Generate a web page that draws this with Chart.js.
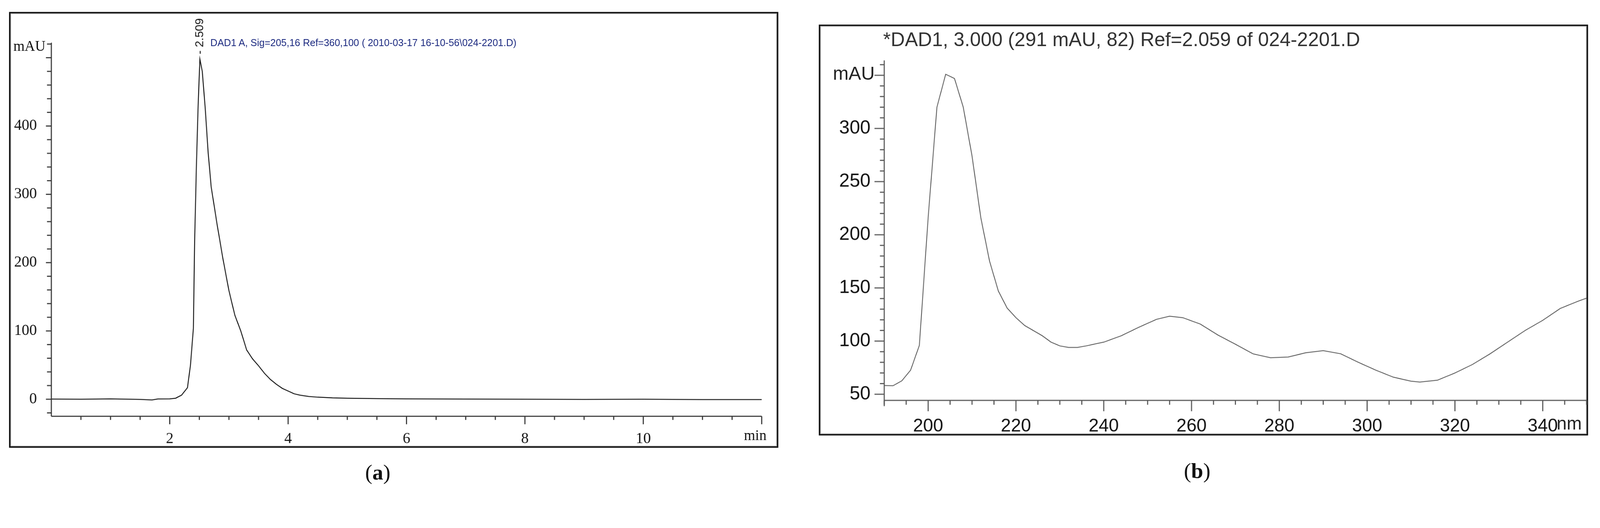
<!DOCTYPE html>
<html><head><meta charset="utf-8">
<script src="https://cdn.jsdelivr.net/npm/chart.js@4/dist/chart.umd.min.js"></script>
<style>
html,body{margin:0;padding:0;background:#fff;overflow:hidden}
#wrap{position:absolute;left:0;top:0;width:4426px;height:1351px;transform-origin:0 0;font-family:"Liberation Sans",Arial,sans-serif}
canvas{position:absolute;top:0}
.frame{position:absolute;border:4px solid #111;box-sizing:border-box;box-shadow:inset 0 0 0 2px #bbb}
.t{position:absolute;white-space:nowrap}
</style></head><body><div id="wrap">
<div class="frame" style="left:25px;top:33px;width:2128px;height:1205px"></div>
<div class="frame" style="left:2265px;top:68px;width:2128px;height:1136px"></div>
<div style="position:absolute;left:0;top:0;width:2200px;height:1351px"><canvas id="c1"></canvas></div>
<div style="position:absolute;left:2200px;top:0;width:2226px;height:1351px"><canvas id="c2"></canvas></div>
<div class="t" style="left:37px;top:104px;font:40px 'Liberation Serif',serif;color:#111">mAU</div>
<div class="t" style="left:2058px;top:1180px;font:40px 'Liberation Serif',serif;color:#111">min</div>
<div class="t" style="left:582px;top:104px;font:27px 'Liberation Sans',Arial,sans-serif;color:#1c2a80">DAD1 A, Sig=205,16 Ref=360,100 ( 2010-03-17 16-10-56\024-2201.D)</div>
<div class="t" style="left:2443px;top:78px;font:54px 'Liberation Sans',Arial,sans-serif;color:#333">*DAD1, 3.000 (291 mAU, 82) Ref=2.059 of 024-2201.D</div>
<div class="t" style="left:2304px;top:172px;font:52px 'Liberation Sans',Arial,sans-serif;color:#222">mAU</div>
<div class="t" style="left:4306px;top:1142px;font:50px 'Liberation Sans',Arial,sans-serif;color:#222">nm</div>
<div class="t" style="left:1010px;top:1272px;font:60px 'Liberation Serif',serif;color:#111">(<b>a</b>)</div>
<div class="t" style="left:3275px;top:1268px;font:60px 'Liberation Serif',serif;color:#111">(<b>b</b>)</div>
</div>
<script>
(function(){const s=Math.min(window.innerWidth/4426,window.innerHeight/1351);document.getElementById('wrap').style.transform='scale('+s+')';})();
const timeMin=[0,0.5,1.0,1.5,1.7,1.8,2.0,2.1,2.2,2.3,2.35,2.4,2.42,2.45,2.48,2.509,2.55,2.6,2.65,2.7,2.8,2.9,3.0,3.1,3.2,3.3,3.4,3.5,3.6,3.7,3.8,3.9,4.0,4.1,4.2,4.35,4.5,4.75,5.0,5.5,6.0,7.0,8.0,9.0,10,11,12];
const signalMAU=[0.3,0,0.5,-0.3,-1,0.4,0.5,1.5,6,17,50,104,230,340,430,498,480,425,360,311,256,205,159,123,100,72,59,49,38,29,22,16,12,8,6,4,3,2,1.5,1,0.5,0.3,0,-0.3,0,-0.5,-0.5];
const leftTickLabels=['0','100','200','300','400'];
const peakLabel='2.509', peakTime=2.509;
const wavelength=[190,192,194,196,198,200,202,204,206,208,210,212,214,216,218,220,222,226,228,230,232,234,236,240,244,248,252,255,258,262,266,270,274,278,282,286,290,294,298,302,306,310,312,316,320,324,328,332,336,340,344,348,350];
const absorbMAU=[58.2,58,62.6,72.6,96,216,320,351,347,320,274,216,175,147,131,122,114.6,105,99,95.5,94,94,95.5,99,105,113,120.4,123.4,122,116,105.7,97,88,84.3,85,89,91,88,80,72.6,66,62.3,61.4,63.2,70,78,88,99,110,119.5,130.7,137.4,140.4];

const ticksPlugin={id:'tk',afterDraw(ch){
  const o=ch.options.plugins.tk; if(!o) return;
  const c=ch.ctx,x=ch.scales.x,y=ch.scales.y;
  c.save();c.strokeStyle=o.color;c.lineWidth=3;
  c.beginPath();c.moveTo(x.left,y.top);c.lineTo(x.left,y.bottom+o.ext);c.moveTo(x.left,y.bottom);c.lineTo(x.right,y.bottom);c.stroke();
  for(let v=o.yMinor0;v<=y.max;v+=o.yMinor){const p=y.getPixelForValue(v);const maj=Math.abs(v/o.yMajor-Math.round(v/o.yMajor))<1e-6;
    c.beginPath();c.moveTo(x.left,p);c.lineTo(x.left-(maj?o.yMajLen:o.yMinLen),p);c.stroke();}
  for(let v=o.xMinor0;v<=x.max+1e-6;v+=o.xMinor){const p=x.getPixelForValue(v);const maj=Math.abs(v/o.xMajor-Math.round(v/o.xMajor))<1e-6;
    c.beginPath();c.moveTo(p,y.bottom);c.lineTo(p,y.bottom+(maj?o.xMajLen:o.xMinLen));c.stroke();}
  if(o.peak){const px=x.getPixelForValue(peakTime);c.translate(px,150);c.rotate(-Math.PI/2);c.fillStyle='#111';c.font='32px "Liberation Sans",Arial';c.textBaseline='middle';c.fillText('- '+peakLabel,0,0);}
  c.restore();}};

function mk(id,w,pad,xs,ys,data,ext,color,lw){
 const cv=document.getElementById(id);cv.width=w;cv.height=1351;cv.style.width=w+'px';cv.style.height='1351px';
 return new Chart(cv,{type:'line',data:{datasets:[{data,borderColor:color,borderWidth:lw,pointRadius:0,tension:0,fill:false}]},
 options:{responsive:false,animation:false,devicePixelRatio:1,layout:{padding:pad},
  plugins:{legend:{display:false},tooltip:{enabled:false},tk:ext},
  scales:{x:Object.assign({type:'linear',grid:{display:false},border:{display:false},afterFit(s){s.height=xs.h}},xs.o),
   y:Object.assign({type:'linear',grid:{display:false},border:{display:false},afterFit(s){s.width=ys.w}},ys.o)}},plugins:[ticksPlugin]});}

mk('c1',2200,{left:0,top:118,right:93,bottom:0},
 {h:200,o:{min:0,max:12,ticks:{padding:30,font:{family:'Liberation Serif',size:42},color:'#111',maxRotation:0,autoSkip:false},afterBuildTicks(s){s.ticks=[2,4,6,8,10].map(v=>({value:v}))}}},
 {w:142,o:{min:-25,max:522,ticks:{padding:32,font:{family:'Liberation Serif',size:42},color:'#111',autoSkip:false,callback:v=>leftTickLabels.includes(String(v))?String(v):''},afterBuildTicks(s){s.ticks=[0,100,200,300,400].map(v=>({value:v}))}}},
 timeMin.map((t,i)=>({x:t,y:signalMAU[i]})),
 {color:'#333',ext:0,yMinor0:-20,yMinor:20,yMajor:100,yMajLen:15,yMinLen:12,xMinor0:0.5,xMinor:0.5,xMajor:2,xMajLen:22,xMinLen:10,peak:true},'#111',2.5);

mk('c2',2226,{left:0,top:167,right:37,bottom:0},
 {h:244,o:{min:190,max:350,ticks:{padding:34,font:{family:'Liberation Sans',size:50},color:'#111',maxRotation:0,autoSkip:false},afterBuildTicks(s){s.ticks=[200,220,240,260,280,300,320,340].map(v=>({value:v}))}}},
 {w:246,o:{min:44.2,max:364,ticks:{padding:30,font:{family:'Liberation Sans',size:52},color:'#111',autoSkip:false},afterBuildTicks(s){s.ticks=[50,100,150,200,250,300].map(v=>({value:v}))}}},
 wavelength.map((t,i)=>({x:t,y:absorbMAU[i]})),
 {color:'#555',ext:16,yMinor0:50,yMinor:10,yMajor:50,yMajLen:27,yMinLen:12,xMinor0:190,xMinor:5,xMajor:20,xMajLen:30,xMinLen:12,peak:false},'#555',2.2);
</script></body></html>
